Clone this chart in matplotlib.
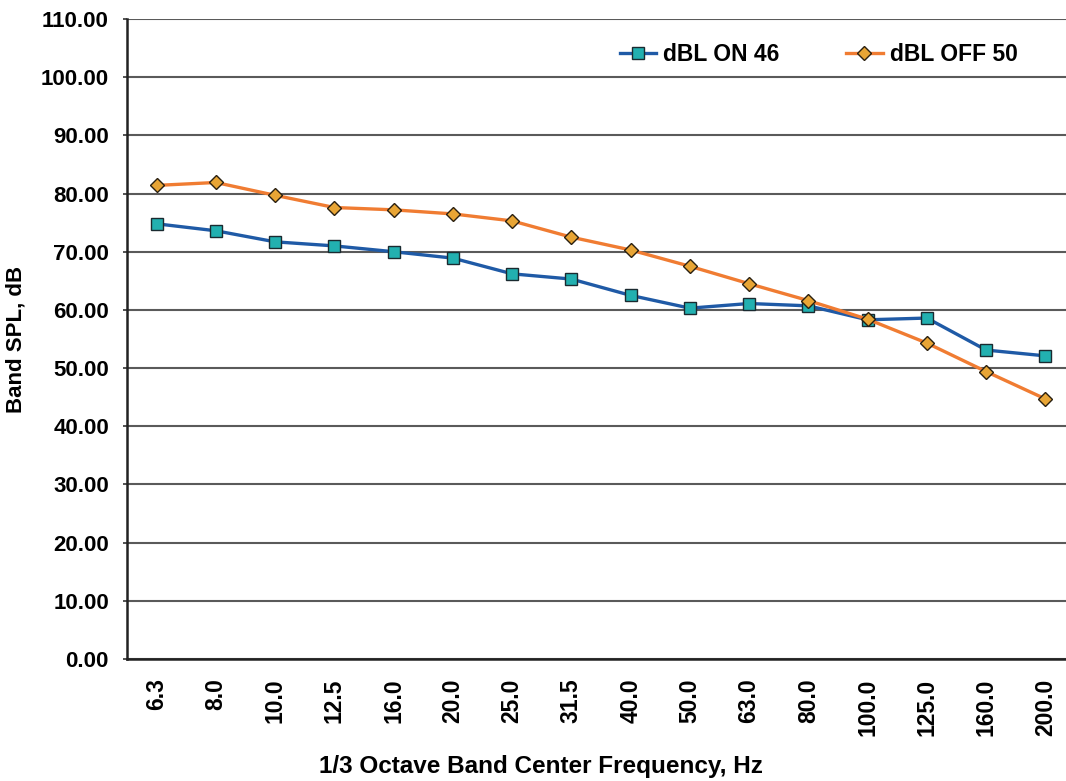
import matplotlib
matplotlib.use("Agg")
import matplotlib.pyplot as plt

plt.rcParams['font.family'] = ['Liberation Sans', 'DejaVu Sans']

freq_labels = ["6.3", "8.0", "10.0", "12.5", "16.0", "20.0", "25.0", "31.5",
               "40.0", "50.0", "63.0", "80.0", "100.0", "125.0", "160.0", "200.0"]
dbl_on_46 = [74.8, 73.6, 71.7, 71.0, 70.0, 68.9, 66.2, 65.3,
             62.5, 60.3, 61.1, 60.7, 58.3, 58.6, 53.1, 52.1]
dbl_off_50 = [81.4, 81.9, 79.7, 77.6, 77.2, 76.5, 75.3, 72.5,
              70.3, 67.5, 64.5, 61.6, 58.4, 54.3, 49.4, 44.7]
y_ticks = [0, 10, 20, 30, 40, 50, 60, 70, 80, 90, 100, 110]

fig = plt.figure(figsize=(10.66, 7.81), dpi=100)
ax = fig.add_axes([127/1066, 122/781, 948/1066, 640/781])

x = list(range(len(freq_labels)))
ax.plot(x, dbl_on_46, color="#1f5aa6", lw=2.4, marker="s", ms=9,
        mfc="#22b0b0", mec="#1a2a30", mew=1.0, label="dBL ON 46", zorder=3)
ax.plot(x, dbl_off_50, color="#f07c32", lw=2.4, marker="D", ms=7.5,
        mfc="#e8a535", mec="#2a2010", mew=1.0, label="dBL OFF 50", zorder=3)

ax.set_xlim(-0.5, len(freq_labels) - 0.5)
ax.set_ylim(0, 110)
ax.set_yticks(y_ticks)
ax.set_yticklabels([f"{v:.2f}" for v in y_ticks], fontsize=16, fontweight="bold")
ax.set_xticks(x)
ax.set_xticklabels(freq_labels, rotation=90, fontsize=16.5, fontweight="bold")
ax.tick_params(axis="x", length=0, pad=14)
ax.tick_params(axis="y", length=3, width=1.2, color="#333333", pad=10)

ax.grid(axis="y", color="#5a5a5a", lw=1.5)
ax.set_axisbelow(True)
for s in ["top", "right"]:
    ax.spines[s].set_visible(False)
ax.spines["left"].set_linewidth(1.8)
ax.spines["bottom"].set_linewidth(1.8)
ax.spines["left"].set_color("#222222")
ax.spines["bottom"].set_color("#222222")

ax.set_ylabel("Band SPL, dB", fontsize=16, fontweight="bold", labelpad=10)
fig.text(541/1066, 1 - 767/781, "1/3 Octave Band Center Frequency, Hz",
         fontsize=17.5, fontweight="bold", ha="center", va="center")

leg = ax.legend(loc="upper right", bbox_to_anchor=(0.961, 0.995), ncol=2,
                frameon=False, prop={"weight": "bold", "size": 16.5},
                handlelength=1.6, columnspacing=2.9, handletextpad=0.3)

fig.savefig("out.png", dpi=100)
